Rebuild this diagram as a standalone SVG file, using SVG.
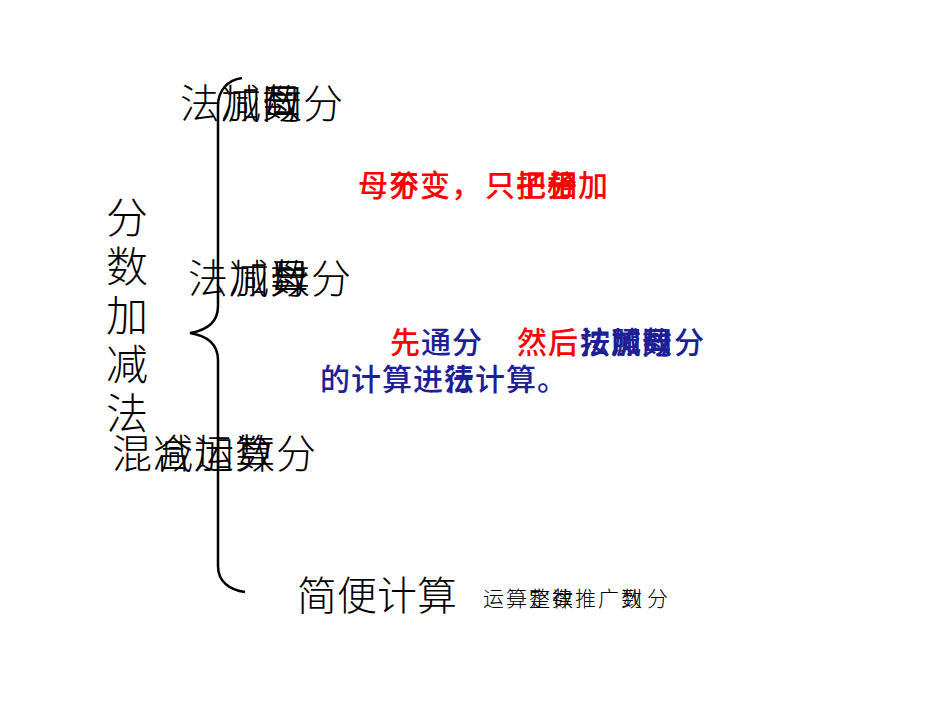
<svg xmlns="http://www.w3.org/2000/svg" width="950" height="713" viewBox="0 0 950 713">
<style>
.k{font-family:"Noto Sans CJK SC","Noto Sans CJK JP",sans-serif;fill:#000;font-weight:300}
.big{font-size:40px}
.t{font-size:42px;writing-mode:vertical-rl;letter-spacing:7px}
.r{font-family:"Noto Sans CJK SC",sans-serif;font-size:30px;font-weight:500;fill:#ff0000}
.b{font-family:"Noto Sans CJK SC",sans-serif;font-size:30px;font-weight:500;fill:#1e1e96}
.rr{fill:#ff0000}
.s{font-size:21px}
</style>
<rect width="950" height="713" fill="#fff"/>
<g id="connectors">
<path d="M242,78 C228,80 218,90 218,106 L218,306 C218,322 208,330 190,333 C208,336 218,344 218,360 L218,566 C218,582 230,590 245,592" fill="none" stroke="#000" stroke-width="2.5"/>
</g>
<g id="title" class="k">
<text class="t" x="127" y="196">分数加减法</text>
</g>
<g id="row1" class="k big">
<text x="180" y="118">法</text>
<text x="221" y="118">加</text><text x="221" y="118">减</text>
<text x="262" y="118">数</text><text x="262" y="118">母</text><text x="262" y="118">同</text>
<text x="303" y="118">分</text>
</g>
<g id="row2" class="k big">
<text x="188" y="293">法</text>
<text x="229" y="293">加</text><text x="229" y="293">减</text>
<text x="270" y="293">数</text><text x="270" y="293">异</text><text x="270" y="293">母</text>
<text x="311" y="293">分</text>
</g>
<g id="row3" class="k big">
<text x="112" y="468">混</text>
<text x="153" y="468">减</text><text x="153" y="468">合</text>
<text x="194" y="468">加</text><text x="194" y="468">运</text>
<text x="235" y="468">数</text><text x="235" y="468">算</text>
<text x="276" y="468">分</text>
</g>
<g id="note1">
<text class="r" x="358" y="196">母</text>
<text class="r" x="389" y="196">不</text><text class="r" x="389" y="196">分</text>
<text class="r" x="420" y="196">变</text>
<text class="r" x="451" y="196">，</text>
<text class="r" x="485" y="196">只</text>
<text class="r" x="516" y="196">把</text><text class="r" x="516" y="196">子</text>
<text class="r" x="547" y="196">分</text><text class="r" x="547" y="196">子</text><text class="r" x="547" y="196">相</text>
<text class="r" x="578" y="196">加</text>
</g>
<g id="note2">
<text class="b"><tspan class="rr" x="390" y="353">先</tspan><tspan x="421" y="353">通</tspan><tspan x="452" y="353">分</tspan><tspan class="rr" x="517" y="353">然</tspan><tspan class="rr" x="548" y="353">后</tspan><tspan x="580" y="353">按</tspan><tspan x="580" y="353">法</tspan><tspan x="611" y="353">照</tspan><tspan x="611" y="353">加</tspan><tspan x="611" y="353">减</tspan><tspan x="642" y="353">同</tspan><tspan x="642" y="353">母</tspan><tspan x="642" y="353">数</tspan><tspan x="674" y="353">分</tspan><tspan x="320" y="390">的</tspan><tspan x="351" y="390">计</tspan><tspan x="382" y="390">算</tspan><tspan x="413" y="390">进</tspan><tspan x="444" y="390">行</tspan><tspan x="444" y="390">法</tspan><tspan x="475" y="390">计</tspan><tspan x="506" y="390">算</tspan><tspan x="537" y="390">。</tspan></text>
</g>
<g id="row4" class="k">
<text class="big" x="297" y="610">简便计算</text>
<text class="s" x="483" y="606">运</text>
<text class="s" x="506" y="606">算</text><text class="s" x="506" y="606">一</text>
<text class="s" x="529" y="606">定</text><text class="s" x="529" y="606">整</text>
<text class="s" x="552" y="606">律</text><text class="s" x="552" y="606">数</text>
<text class="s" x="575" y="606">推</text>
<text class="s" x="598" y="606">广</text>
<text class="s" x="621" y="606">到</text><text class="s" x="621" y="606">数</text>
<text class="s" x="647" y="606">分</text>
</g>
</svg>
